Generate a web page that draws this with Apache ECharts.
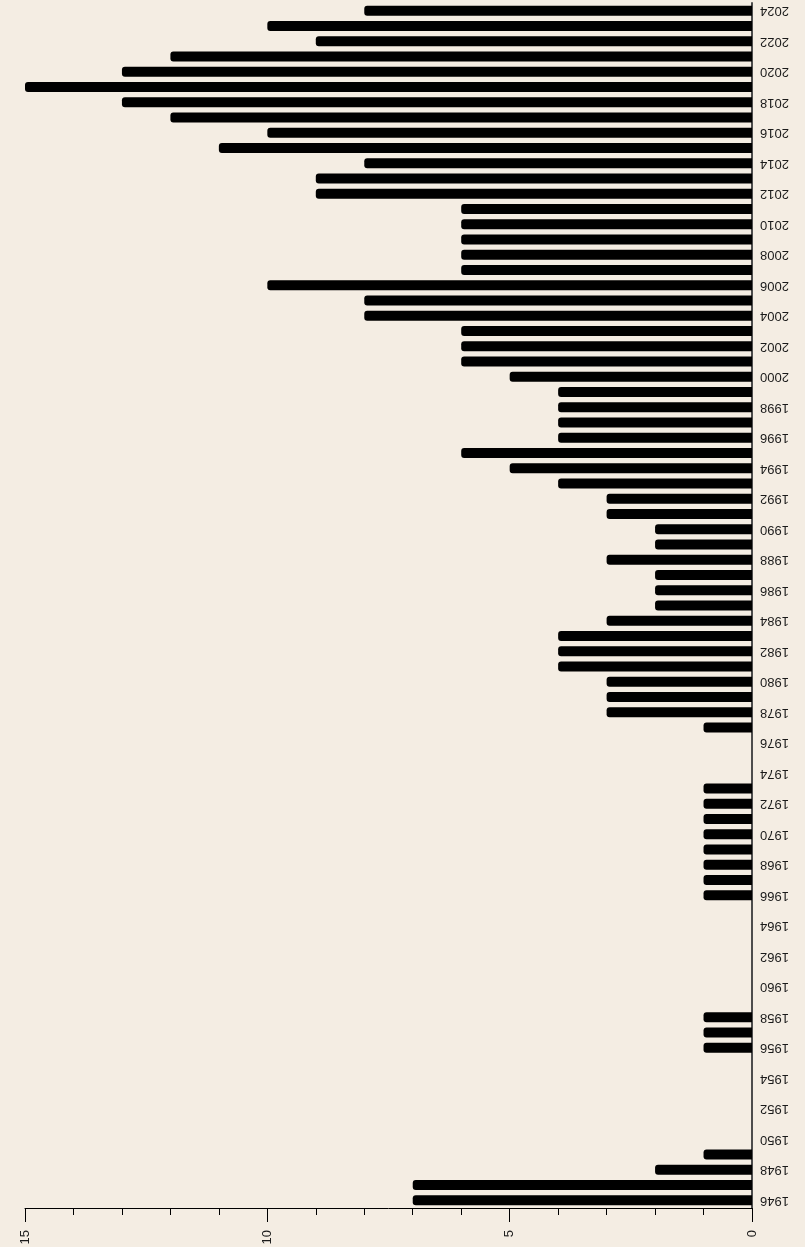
<!DOCTYPE html>
<html>
<head>
<meta charset="utf-8">
<script src="https://cdn.jsdelivr.net/npm/echarts@6/dist/echarts.min.js"></script>
<style>
  html, body { margin: 0; padding: 0; background: #f4ede3; }
  #chart { width: 805px; height: 1247px; }
</style>
</head>
<body>
<div id="chart"></div>
<script>
// years, bottom to top
const years = [];
for (let y = 1946; y <= 2024; y++) years.push(String(y));

const counts = [
  7, 7, 2, 1, 0, 0, 0, 0, 0, 0,      // 1946-1955
  1, 1, 1, 0, 0, 0, 0, 0, 0, 0,      // 1956-1965
  1, 1, 1, 1, 1, 1, 1, 1, 0, 0,      // 1966-1975
  0, 1, 3, 3, 3, 4, 4, 4, 3, 2,      // 1976-1985
  2, 2, 3, 2, 2, 3, 3, 4, 5, 6,      // 1986-1995
  4, 4, 4, 4, 5, 6, 6, 6, 8, 8,      // 1996-2005
  10, 6, 6, 6, 6, 6, 9, 9, 8, 11,    // 2006-2015
  10, 12, 13, 15, 13, 12, 9, 10, 8   // 2016-2024
];

const valueMax = 15;
const valueStep = 5;

const chart = echarts.init(document.getElementById('chart'));
chart.setOption({
  backgroundColor: '#f4ede3',
  animation: false,
  grid: {
    left: 25,
    right: 53,
    top: 3,
    bottom: 39,
    containLabel: false,
    outerBoundsMode: 'none'
  },
  xAxis: {
    type: 'value',
    inverse: true, // 0 on the right
    min: 0,
    max: valueMax,
    interval: valueStep,
    axisLine: { show: true, lineStyle: { color: '#000', width: 1 } },
    axisTick: { show: true, length: 14, lineStyle: { color: '#000' } },
    minorTick: { show: true, splitNumber: 5, length: 7, lineStyle: { color: '#000' } },
    splitLine: { show: false },
    minorSplitLine: { show: false },
    axisLabel: {
      rotate: 90,
      margin: 22,
      fontSize: 13,
      fontFamily: 'Liberation Sans',
      color: '#1a1a1a'
    }
  },
  yAxis: {
    type: 'category',
    position: 'right',
    data: years,
    axisLine: { show: true, lineStyle: { color: '#4d4d4d', width: 2 } },
    axisTick: { show: false },
    splitLine: { show: false },
    axisLabel: {
      interval: 1, // every other year
      rotate: 180,
      margin: 8,
      fontSize: 13,
      fontFamily: 'Liberation Sans',
      color: '#1a1a1a'
    }
  },
  series: [{
    type: 'bar',
    data: counts,
    barWidth: 10,
    itemStyle: {
      color: '#000',
      borderRadius: [3, 0, 0, 3]
    }
  }]
});
</script>
</body>
</html>
